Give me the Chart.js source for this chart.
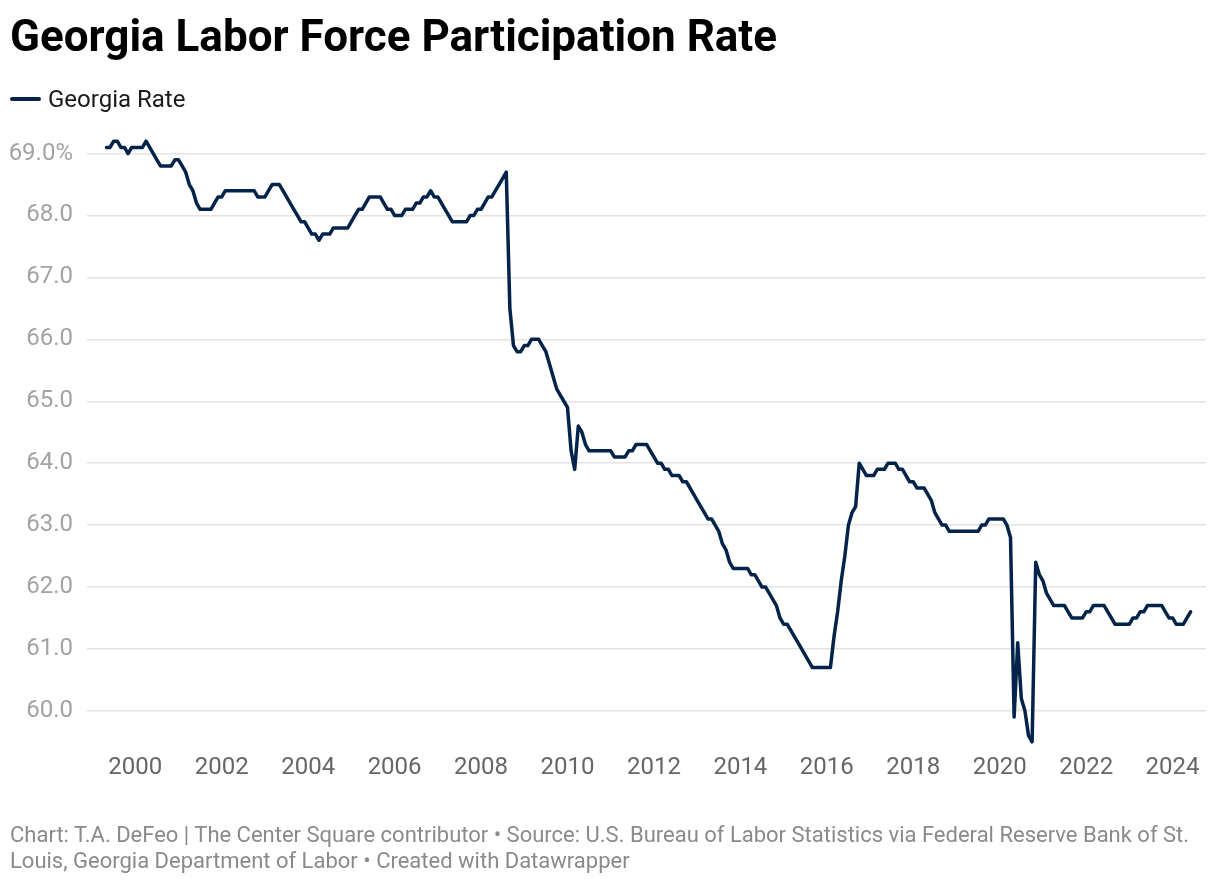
<!DOCTYPE html>
<html>
<head>
<meta charset="utf-8">
<script src="https://cdn.jsdelivr.net/npm/chart.js@4.4.1/dist/chart.umd.min.js"></script>
<style>
    html, body { margin: 0; padding: 0; background: #ffffff; }
    body { width: 1220px; height: 884px; position: relative; overflow: hidden; font-family: Roboto, "Noto Sans", sans-serif; }
    #wrap { position: absolute; left: 0; top: 0; width: 1220px; height: 884px; }
    .title { position: absolute; left: 10px; top: 14px; font-size: 44px; line-height: 44px; font-weight: 700; color: #000000; white-space: nowrap; }
    .legend { position: absolute; left: 10px; top: 87px; font-size: 24px; line-height: 24px; color: #1a1a1a; white-space: nowrap; }
    .legend .swatch { display: inline-block; width: 31px; height: 4px; background: #03234b; border-radius: 2px; vertical-align: middle; margin-right: 7px; position: relative; top: -2px; }
    .footer { position: absolute; left: 10px; top: 822px; font-size: 22px; line-height: 26px; color: #8a8a8a; white-space: nowrap; }
</style>
</head>
<body>
<div id="wrap"><canvas id="graficaGeorgia"></canvas></div>
<div class="title">Georgia Labor Force Participation Rate</div>
<div class="legend"><span class="swatch"></span>Georgia Rate</div>
<div class="footer">Chart: T.A. DeFeo | The Center Square contributor • Source: U.S. Bureau of Labor Statistics via Federal Reserve Bank of St.<br>Louis, Georgia Department of Labor • Created with Datawrapper</div>

<script>
// monthly series, first value is May 1999
const startYear = 1999;
const startMonth = 4; // 0 = January

const georgiaRate = [
    69.1, 69.1, 69.2, 69.2, 69.1, 69.1, 69.0, 69.1,                   // 1999 May-Dec
    69.1, 69.1, 69.1, 69.2, 69.1, 69.0, 68.9, 68.8, 68.8, 68.8, 68.8, 68.9, // 2000
    68.9, 68.8, 68.7, 68.5, 68.4, 68.2, 68.1, 68.1, 68.1, 68.1, 68.2, 68.3, // 2001
    68.3, 68.4, 68.4, 68.4, 68.4, 68.4, 68.4, 68.4, 68.4, 68.4, 68.3, 68.3, // 2002
    68.3, 68.4, 68.5, 68.5, 68.5, 68.4, 68.3, 68.2, 68.1, 68.0, 67.9, 67.9, // 2003
    67.8, 67.7, 67.7, 67.6, 67.7, 67.7, 67.7, 67.8, 67.8, 67.8, 67.8, 67.8, // 2004
    67.9, 68.0, 68.1, 68.1, 68.2, 68.3, 68.3, 68.3, 68.3, 68.2, 68.1, 68.1, // 2005
    68.0, 68.0, 68.0, 68.1, 68.1, 68.1, 68.2, 68.2, 68.3, 68.3, 68.4, 68.3, // 2006
    68.3, 68.2, 68.1, 68.0, 67.9, 67.9, 67.9, 67.9, 67.9, 68.0, 68.0, 68.1, // 2007
    68.1, 68.2, 68.3, 68.3, 68.4, 68.5, 68.6, 68.7, 66.5, 65.9, 65.8, 65.8, // 2008
    65.9, 65.9, 66.0, 66.0, 66.0, 65.9, 65.8, 65.6, 65.4, 65.2, 65.1, 65.0, // 2009
    64.9, 64.2, 63.9, 64.6, 64.5, 64.3, 64.2, 64.2, 64.2, 64.2, 64.2, 64.2, // 2010
    64.2, 64.1, 64.1, 64.1, 64.1, 64.2, 64.2, 64.3, 64.3, 64.3, 64.3, 64.2, // 2011
    64.1, 64.0, 64.0, 63.9, 63.9, 63.8, 63.8, 63.8, 63.7, 63.7, 63.6, 63.5, // 2012
    63.4, 63.3, 63.2, 63.1, 63.1, 63.0, 62.9, 62.7, 62.6, 62.4, 62.3, 62.3, // 2013
    62.3, 62.3, 62.3, 62.2, 62.2, 62.1, 62.0, 62.0, 61.9, 61.8, 61.7, 61.5, // 2014
    61.4, 61.4, 61.3, 61.2, 61.1, 61.0, 60.9, 60.8, 60.7, 60.7, 60.7, 60.7, // 2015
    60.7, 60.7, 61.2, 61.6, 62.1, 62.5, 63.0, 63.2, 63.3, 64.0, 63.9, 63.8, // 2016
    63.8, 63.8, 63.9, 63.9, 63.9, 64.0, 64.0, 64.0, 63.9, 63.9, 63.8, 63.7, // 2017
    63.7, 63.6, 63.6, 63.6, 63.5, 63.4, 63.2, 63.1, 63.0, 63.0, 62.9, 62.9, // 2018
    62.9, 62.9, 62.9, 62.9, 62.9, 62.9, 62.9, 63.0, 63.0, 63.1, 63.1, 63.1, // 2019
    63.1, 63.1, 63.0, 62.8, 59.9, 61.1, 60.2, 60.0, 59.6, 59.5, 62.4, 62.2, // 2020
    62.1, 61.9, 61.8, 61.7, 61.7, 61.7, 61.7, 61.6, 61.5, 61.5, 61.5, 61.5, // 2021
    61.6, 61.6, 61.7, 61.7, 61.7, 61.7, 61.6, 61.5, 61.4, 61.4, 61.4, 61.4, // 2022
    61.4, 61.5, 61.5, 61.6, 61.6, 61.7, 61.7, 61.7, 61.7, 61.7, 61.6, 61.5, // 2023
    61.5, 61.4, 61.4, 61.4, 61.5, 61.6                                      // 2024 Jan-...
];

const yearTicks = [2000, 2002, 2004, 2006, 2008, 2010, 2012, 2014, 2016, 2018, 2020, 2022, 2024];
const rateTicks = [60, 61, 62, 63, 64, 65, 66, 67, 68, 69];

document.addEventListener("DOMContentLoaded", function () {
    const puntos = georgiaRate.map((valor, index) => {
        return { x: startYear + (startMonth + index) / 12, y: valor };
    });

    const data = {
        datasets: [
            {
                label: "Georgia Rate",
                data: puntos,
                borderColor: "#03234b",
                borderWidth: 3.5,
                borderJoinStyle: "round",
                borderCapStyle: "round",
                pointRadius: 0,
                tension: 0,
                fill: false,
            },
        ],
    };

    const config = {
        type: "line",
        data: data,
        options: {
            responsive: true,
            maintainAspectRatio: false,
            animation: false,
            layout: {
                padding: { left: 0, right: 14, top: 135, bottom: 76 },
            },
            plugins: {
                legend: { display: false },
                title: { display: false },
                tooltip: { enabled: false },
            },
            scales: {
                x: {
                    type: "linear",
                    min: 1998.883,
                    max: 2024.773,
                    afterBuildTicks: (scale) => {
                        scale.ticks = yearTicks.map((v) => ({ value: v }));
                    },
                    afterFit: (scale) => {
                        scale.height = 60;
                    },
                    grid: { display: false, drawTicks: false },
                    border: { display: false },
                    ticks: {
                        padding: 6,
                        maxRotation: 0,
                        autoSkip: false,
                        color: "#666666",
                        font: { family: "Roboto", size: 24 },
                        callback: (value) => String(value),
                    },
                },
                y: {
                    type: "linear",
                    min: 59.4,
                    max: 69.3,
                    afterBuildTicks: (scale) => {
                        scale.ticks = rateTicks.map((v) => ({ value: v }));
                    },
                    afterFit: (scale) => {
                        scale.width = 87;
                    },
                    grid: { color: "#e3e3e3", lineWidth: 1.5, drawTicks: false },
                    border: { display: false },
                    ticks: {
                        padding: 14,
                        color: "#a3a3a3",
                        font: { family: "Roboto", size: 24 },
                        callback: (value) => (value === 69 ? value.toFixed(1) + "%" : value.toFixed(1)),
                    },
                },
            },
        },
    };

    new Chart(document.getElementById("graficaGeorgia"), config);
});
</script>
</body>
</html>
